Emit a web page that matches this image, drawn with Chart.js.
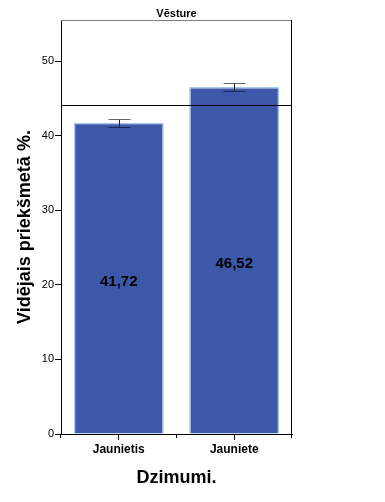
<!DOCTYPE html>
<html>
<head>
<meta charset="utf-8">
<script src="https://cdn.jsdelivr.net/npm/chart.js@4.4.1/dist/chart.umd.min.js"></script>
<style>
  html, body { margin: 0; padding: 0; background: #fff; }
  #wrap { width: 385px; height: 502px; position: relative; }
</style>
</head>
<body>
<div id="wrap"><canvas id="barChart"></canvas></div>
<script>
const categories = ['Jaunietis', 'Jauniete'];
const means = [41.72, 46.52];
const ciLow = [41.22, 45.92];
const ciHigh = [42.22, 47.12];
const overallMean = 44.14;
const yTicks = [0, 10, 20, 30, 40, 50];
const yMax = 55.5;

const FONT = "'Liberation Sans', Arial, sans-serif";

// error bars, mean line, value labels and frame
const extras = {
    id: 'extras',
    afterDatasetsDraw(chart) {
        const ctx = chart.ctx;
        const x = chart.scales.x, y = chart.scales.y;
        const area = chart.chartArea;
        ctx.save();

        // value labels inside bars
        ctx.fillStyle = '#000';
        ctx.font = 'bold 15px ' + FONT;
        ctx.textAlign = 'center';
        ctx.textBaseline = 'middle';
        means.forEach((m, i) => {
            ctx.fillText(m.toFixed(2).replace('.', ','), x.getPixelForValue(i), y.getPixelForValue(m / 2) + 3);
        });

        // error bars
        ctx.lineWidth = 1;
        means.forEach((m, i) => {
            const cx = Math.round(x.getPixelForValue(i)) + 0.5;
            const top = Math.round(y.getPixelForValue(ciHigh[i])) + 0.5;
            const bot = Math.round(y.getPixelForValue(ciLow[i])) + 0.5;
            ctx.strokeStyle = '#222';
            ctx.beginPath();
            ctx.moveTo(cx, top); ctx.lineTo(cx, bot);
            ctx.stroke();
            ctx.strokeStyle = '#666';
            ctx.beginPath();
            ctx.moveTo(cx - 11, top); ctx.lineTo(cx + 11, top);
            ctx.stroke();
            ctx.strokeStyle = '#1a2550';
            ctx.beginPath();
            ctx.moveTo(cx - 11, bot); ctx.lineTo(cx + 11, bot);
            ctx.stroke();
        });

        // overall mean line
        const ly = Math.round(y.getPixelForValue(overallMean)) + 0.5;
        ctx.strokeStyle = '#000';
        ctx.beginPath();
        ctx.moveTo(area.left, ly); ctx.lineTo(area.right, ly);
        ctx.stroke();

        // frame: top grey, right black
        ctx.strokeStyle = '#808080';
        ctx.beginPath();
        ctx.moveTo(area.left, Math.round(area.top) + 0.5); ctx.lineTo(area.right, Math.round(area.top) + 0.5);
        ctx.stroke();
        ctx.strokeStyle = '#000';
        ctx.beginPath();
        ctx.moveTo(Math.round(area.right) - 0.5, area.top); ctx.lineTo(Math.round(area.right) - 0.5, area.bottom);
        ctx.stroke();

        // boundary ticks on x axis
        [area.left, (area.left + area.right) / 2, area.right].forEach(px => {
            const bx = Math.round(px) - 0.5;
            ctx.beginPath();
            ctx.moveTo(bx, area.bottom); ctx.lineTo(bx, area.bottom + 4);
            ctx.stroke();
        });

        // panel title
        ctx.fillStyle = '#000';
        ctx.font = 'bold 11px ' + FONT;
        ctx.textBaseline = 'middle';
        ctx.fillText('Vēsture', (area.left + area.right) / 2, 14);
        ctx.restore();
    }
};

var ctx = document.getElementById('barChart').getContext('2d');
var myChart = new Chart(ctx, {
    type: 'bar',
    data: {
        labels: categories,
        datasets: [{
            data: means,
            backgroundColor: '#3e58a9',
            borderColor: '#a7c6ea',
            borderWidth: 1.5,
            barPercentage: 0.78,
            categoryPercentage: 1
        }]
    },
    options: {
        responsive: true,
        maintainAspectRatio: false,
        animation: false,
        layout: { padding: { top: 20, right: 93, left: 0, bottom: 0 } },
        plugins: {
            legend: { display: false },
            tooltip: { enabled: false }
        },
        scales: {
            y: {
                min: 0,
                max: yMax,
                afterFit: (s) => { s.width = 61; },
                afterBuildTicks: (s) => { s.ticks = yTicks.map(v => ({ value: v })); },
                grid: { drawOnChartArea: false, tickLength: 6, color: '#000' },
                border: { display: true, color: '#000' },
                ticks: {
                    padding: 1,
                    color: '#000',
                    font: { family: FONT, size: 11 }
                },
                title: {
                    display: true,
                    text: 'Vidējais priekšmetā %.',
                    color: '#000',
                    font: { family: FONT, size: 18, weight: 'bold' },
                    padding: { top: 14, bottom: 0 }
                }
            },
            x: {
                afterFit: (s) => { s.height = 68; },
                grid: { drawOnChartArea: false, offset: false, tickLength: 6, color: '#000' },
                border: { display: true, color: '#000' },
                ticks: {
                    padding: 2,
                    color: '#000',
                    font: { family: FONT, size: 12, weight: 'bold' }
                },
                title: {
                    display: true,
                    text: 'Dzimumi.',
                    color: '#000',
                    font: { family: FONT, size: 18, weight: 'bold' },
                    padding: { top: 0, bottom: 13 }
                }
            }
        }
    },
    plugins: [extras]
});
</script>
</body>
</html>
